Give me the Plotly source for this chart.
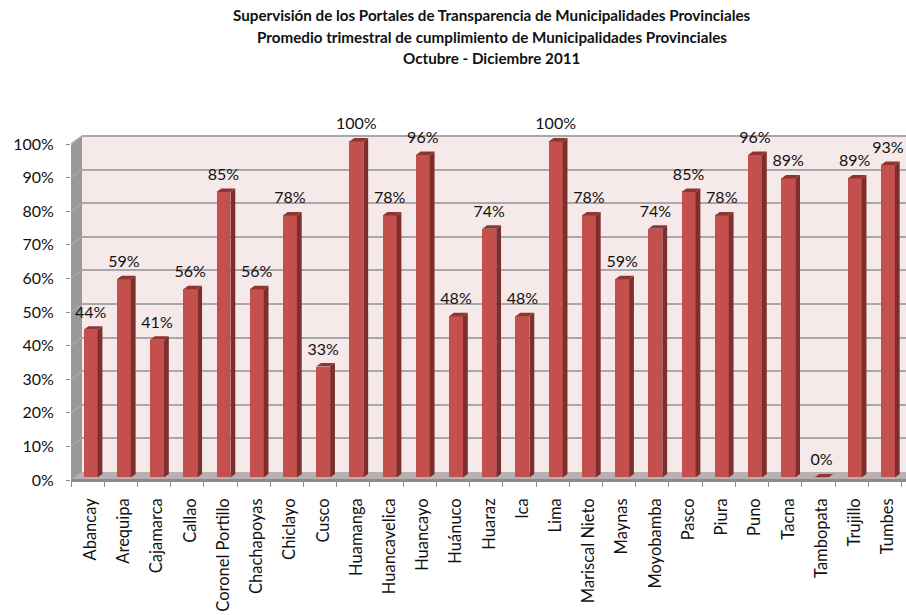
import plotly.graph_objects as go

categories = ["Abancay", "Arequipa", "Cajamarca", "Callao", "Coronel Portillo", "Chachapoyas", "Chiclayo",
              "Cusco", "Huamanga", "Huancavelica", "Huancayo", "Huánuco", "Huaraz", "Ica", "Lima",
              "Mariscal Nieto", "Maynas", "Moyobamba", "Pasco", "Piura", "Puno", "Tacna", "Tambopata",
              "Trujillo", "Tumbes"]
values = [44, 59, 41, 56, 85, 56, 78, 33, 100, 78, 96, 48, 74, 48, 100, 78, 59, 74, 85, 78, 96, 89, 0, 89, 93]
y_ticks = [0, 10, 20, 30, 40, 50, 60, 70, 80, 90, 100]
title_lines = ["Supervisión de los Portales de Transparencia de Municipalidades Provinciales",
               "Promedio trimestral de cumplimiento de Municipalidades Provinciales",
               "Octubre - Diciembre 2011"]

W, H = 906, 615
PX_X = 33.22   # px per category
PX_Y = 3.36    # px per percent
YMAX = 115
FONT = "Lato"
GRID = "#A8A8A8"


def px(v):
    return v / W


def py(v):
    return 1 - v / H


def xdom(x0, units):
    return [px(x0), min(1, px(x0 + units * PX_X))]


def ydom(y0):
    return [py(y0), py(y0 - YMAX * PX_Y)]


def poly(pts, color):
    path = "M " + " L ".join(f"{px(a):.5f},{py(b):.5f}" for a, b in pts) + " Z"
    return dict(type="path", xref="paper", yref="paper", path=path, fillcolor=color,
                line=dict(width=0), layer="below")


BAR_W = 0.42
SIDE_X = 4.8 / PX_X
SIDE_Y = 3.5 / PX_Y
LABEL_GAP = 4.5 / PX_Y
WALL_X = 11 / PX_X
WALL_Y = 8 / PX_Y

fig = go.Figure()

# slanted grid segments over the left wall
sx, sy = [], []
for t in y_ticks:
    sx += [0, WALL_X, None]
    sy += [t, t + WALL_Y, None]
fig.add_trace(go.Scatter(x=sx, y=sy, mode="lines", line=dict(color=GRID, width=1.5),
                         hoverinfo="skip", xaxis="x", yaxis="y", showlegend=False))

# back wall grid (x2/y2 axes carry the grid only)
fig.add_trace(go.Scatter(x=[0], y=[0], mode="markers", marker=dict(opacity=0),
                         hoverinfo="skip", xaxis="x2", yaxis="y2", showlegend=False))

# side and top faces
xc = [i + 0.5 for i in range(len(values))]
for c, v in zip(xc, values):
    r = c + BAR_W / 2
    l = c - BAR_W / 2
    fig.add_trace(go.Scatter(x=[r, r + SIDE_X, r + SIDE_X, r, r], y=[0, SIDE_Y, v + SIDE_Y, v, 0],
                             mode="lines", fill="toself", fillcolor="#7E2E2C", line=dict(width=0),
                             hoverinfo="skip", xaxis="x3", yaxis="y3", showlegend=False))
    fig.add_trace(go.Scatter(x=[l, l + SIDE_X, r + SIDE_X, r, l], y=[v, v + SIDE_Y, v + SIDE_Y, v, v],
                             mode="lines", fill="toself", fillcolor="#8E3532", line=dict(width=0),
                             hoverinfo="skip", xaxis="x3", yaxis="y3", showlegend=False))

# front faces
fig.add_trace(go.Bar(x=xc, y=values, width=BAR_W, marker=dict(color="#C4504D", line=dict(width=0)),
                     xaxis="x3", yaxis="y3", showlegend=False))

# data labels
fig.add_trace(go.Scatter(x=xc, y=[v + SIDE_Y + LABEL_GAP for v in values], mode="text",
                         text=[f"{v}%" for v in values], textposition="top center",
                         textfont=dict(family=FONT, size=16, color="#111111"),
                         cliponaxis=False, hoverinfo="skip", xaxis="x3", yaxis="y3", showlegend=False))

shapes = [
    poly([(82, 136), (906, 136), (906, 472), (82, 472)], "#F5E9E9"),
    poly([(71, 480), (71, 145), (82, 136), (82, 472)], "#9C9898"),
    poly([(71, 480), (82, 472), (906, 472), (906, 480)], "#B9B1B1"),
    dict(type="line", xref="paper", yref="paper", x0=px(71), x1=px(906), y0=py(480.5), y1=py(480.5),
         line=dict(color="#8C8C8C", width=3), layer="above"),
]

annotations = [dict(text=f"<b>{t}</b>", xref="paper", yref="paper", x=px(491.5), y=py(yy), xanchor="center",
                    yanchor="middle", showarrow=False, font=dict(family="Lato", size=15.2, color="#111111"))
               for t, yy in zip(title_lines, [15, 37, 58])]

fig.update_layout(
    width=W, height=H, margin=dict(l=0, r=0, t=0, b=0, autoexpand=False), autosize=False,
    paper_bgcolor="white", plot_bgcolor="rgba(0,0,0,0)", bargap=0, showlegend=False,
    shapes=shapes, annotations=annotations,
    xaxis=dict(domain=xdom(71, 25), range=[0, 25], tickvals=list(range(26)), showticklabels=False,
               ticks="outside", ticklen=6, tickcolor="#8C8C8C", showgrid=False, zeroline=False, showline=False),
    yaxis=dict(domain=ydom(480), range=[0, YMAX], tickvals=y_ticks, ticktext=[f"{t}%" for t in y_ticks],
               ticks="outside", ticklen=4, tickcolor="#8C8C8C", ticklabelstandoff=9,
               tickfont=dict(family=FONT, size=16, color="#111111"), showgrid=False, zeroline=False, showline=False),
    xaxis2=dict(domain=xdom(82, 24.8), range=[0, 24.8], anchor="y2", visible=False),
    yaxis2=dict(domain=ydom(472), range=[0, YMAX], anchor="x2", tickvals=y_ticks, showticklabels=False, ticks="",
                showgrid=True, gridcolor=GRID, gridwidth=1.5, zeroline=False, showline=False),
    xaxis3=dict(domain=xdom(74, 25), range=[0, 25], anchor="free", position=py(480), side="bottom",
                tickvals=xc, ticktext=categories, tickangle=-90, ticks="", ticklabelstandoff=14,
                tickfont=dict(family=FONT, size=16.5, color="#111111"), showgrid=False, zeroline=False, showline=False),
    yaxis3=dict(domain=ydom(477.5), range=[0, YMAX], anchor="x3", visible=False),
)

fig.write_html("out.html", post_script="document.body.style.margin='0';", config=dict(displayModeBar=False))
